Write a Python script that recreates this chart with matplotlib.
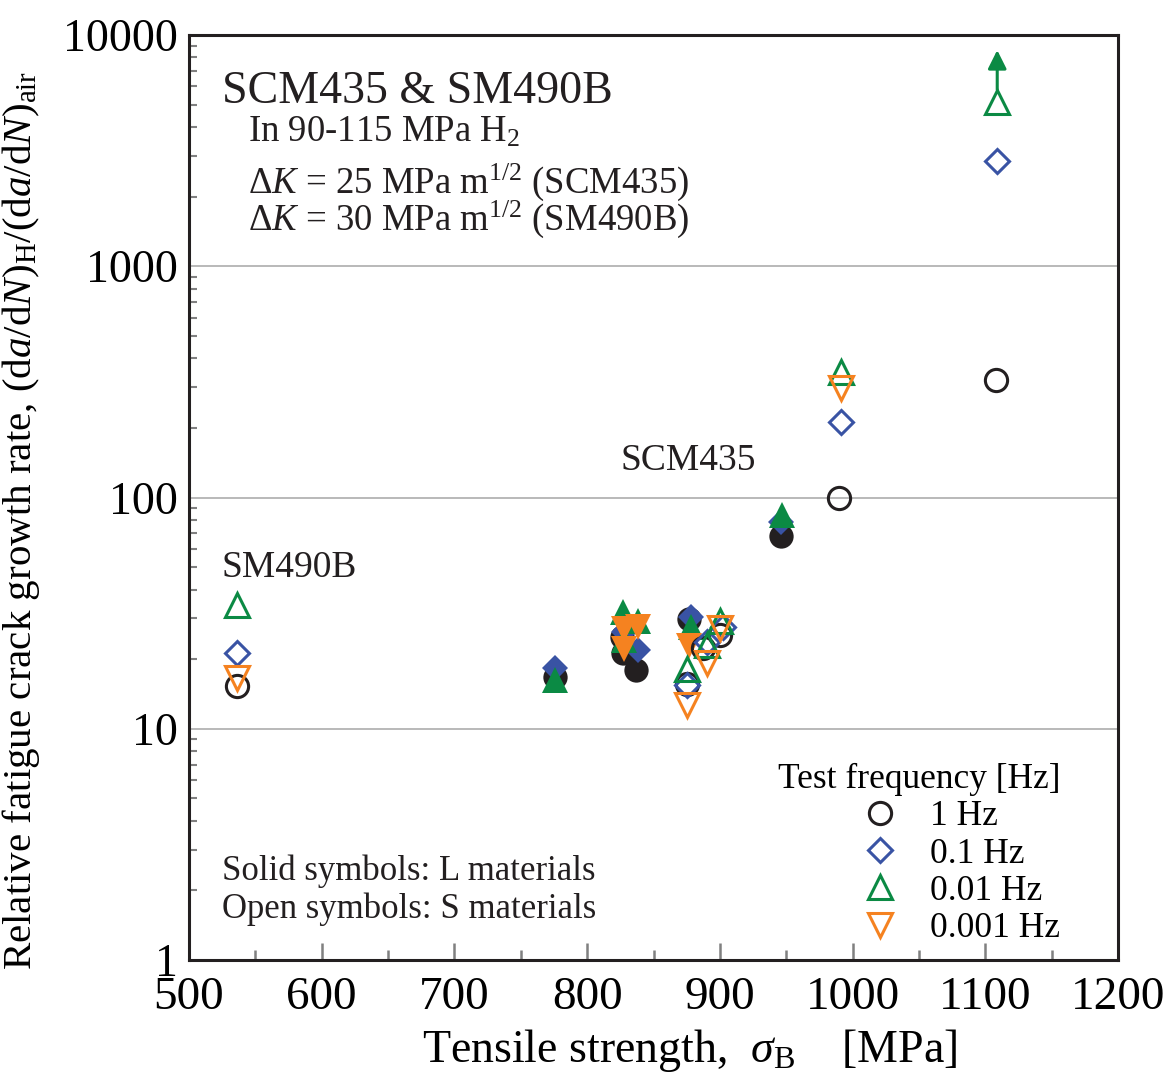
import matplotlib
matplotlib.use("Agg")
import matplotlib.pyplot as plt
from matplotlib.lines import Line2D
from matplotlib.ticker import FixedLocator, NullFormatter, LogLocator

plt.rcParams['font.family'] = ['Liberation Serif', 'DejaVu Serif']
plt.rcParams['mathtext.fontset'] = 'custom'
plt.rcParams['mathtext.rm'] = 'Liberation Serif'
plt.rcParams['mathtext.it'] = 'Liberation Serif:italic'
plt.rcParams['mathtext.bf'] = 'Liberation Serif:bold'

# ---- data (tensile strength [MPa], relative FCG rate) ----
f1_solid_x = [776, 826, 827, 837, 877, 946]
f1_solid_y = [16.7, 24.9, 21.3, 17.9, 29.8, 68]
f1_open_x = [536, 875, 887, 900, 990, 1108]
f1_open_y = [15.3, 15.6, 22.3, 25.4, 99.5, 322]

f01_solid_x = [776, 828, 838, 878, 946]
f01_solid_y = [18.3, 26.2, 21.9, 30.5, 78]
f01_open_x = [536, 875, 890, 902, 991, 1109]
f01_open_y = [21.3, 15.5, 23.7, 27.5, 212, 2850]

f001_solid_x = [776, 827, 828, 838, 878, 947]
f001_solid_y = [16.3, 32, 24.2, 29.2, 27.5, 84]
f001_open_x = [536, 875, 890, 900, 991, 1109]
f001_open_y = [34.3, 18.1, 23, 29.2, 349, 5130]

f0001_solid_x = [828, 838, 828, 877]
f0001_solid_y = [27, 27.5, 22.1, 22.8]
f0001_open_x = [536, 875, 890, 900, 991]
f0001_open_y = [16.6, 12.7, 19.2, 27.3, 298]

# lower bound arrow (0.01 Hz, 1109 MPa)
arrow_x = 1109
arrow_y_from = 5800
arrow_y_to = 8600

labels = ['1 Hz', '0.1 Hz', '0.01 Hz', '0.001 Hz']
colors = ['#231f20', '#3953a4', '#0b8a44', '#f58220']
markers = ['o', 'D', '^', 'v']
msizes = [17.5, 13.5, 19, 19]

x_ticks = [500, 600, 700, 800, 900, 1000, 1100, 1200]
y_ticks = [1, 10, 100, 1000, 10000]
y_ticklabels = ['1', '10', '100', '1000', '10000']

series = [
    (f1_solid_x, f1_solid_y, f1_open_x, f1_open_y),
    (f01_solid_x, f01_solid_y, f01_open_x, f01_open_y),
    (f001_solid_x, f001_solid_y, f001_open_x, f001_open_y),
    (f0001_solid_x, f0001_solid_y, f0001_open_x, f0001_open_y),
]

fig = plt.figure(figsize=(11.67, 10.76), dpi=100)
ax = fig.add_axes([189/1167, 1-960/1076, (1118-189)/1167, (960-35)/1076])

for (sx, sy, ox, oy), c, m, ms in zip(series, colors, markers, msizes):
    ax.plot(sx, sy, ls='none', marker=m, ms=ms, mfc=c, mec=c, mew=0, zorder=3)
for (sx, sy, ox, oy), c, m, ms in zip(series, colors, markers, msizes):
    ax.plot(ox, oy, ls='none', marker=m, ms=ms - 1.5, mfc='none', mec=c, mew=2.2, zorder=4)

ax.annotate('', xy=(arrow_x, arrow_y_to), xytext=(arrow_x, arrow_y_from),
            arrowprops=dict(arrowstyle='-|>', color=colors[2], lw=2.2, mutation_scale=28,
                            shrinkA=0, shrinkB=0), zorder=5)

ax.set_yscale('log')
ax.set_xlim(500, 1200)
ax.set_ylim(1, 10000)
ax.set_xticks(x_ticks)
ax.set_xticklabels([str(v) for v in x_ticks])
ax.xaxis.set_minor_locator(FixedLocator([550, 650, 750, 850, 950, 1050, 1150]))
ax.set_yticks(y_ticks)
ax.set_yticklabels(y_ticklabels)
ax.yaxis.set_minor_locator(LogLocator(base=10, subs=range(2, 10)))
ax.yaxis.set_minor_formatter(NullFormatter())

for v in [10, 100, 1000]:
    ax.axhline(v, color='#b3b3b3', lw=1.3, zorder=1)

ax.tick_params(axis='x', which='major', direction='in', length=12, width=1.8, color='#808080',
               labelsize=34, pad=12, top=False)
ax.tick_params(axis='x', which='minor', direction='in', length=7, width=1.8, color='#808080', top=False)
ax.tick_params(axis='y', which='major', direction='in', length=0, width=1.5, color='#808080',
               labelsize=33, pad=8, right=False)
ax.tick_params(axis='y', which='minor', direction='in', length=6, width=1.5, color='#808080', right=False)

for s in ax.spines.values():
    s.set_linewidth(2.2)
    s.set_color('#231f20')

ax.set_xlabel(r'Tensile strength,  $\sigma_\mathrm{B}$    [MPa]', fontsize=33, labelpad=4)
ax.xaxis.set_label_coords(0.539, -0.072)
ax.set_ylabel(r'Relative fatigue crack growth rate, (d$a$/d$N$)$_\mathrm{H}$/(d$a$/d$N$)$_\mathrm{air}$',
              fontsize=29.5, labelpad=2)
ax.yaxis.set_label_coords(-0.158, 0.475)

tc = '#231f20'
ax.text(0.0355, 0.9265, 'SCM435 & SM490B', transform=ax.transAxes, fontsize=33, va='baseline', color=tc)
ax.text(0.0635, 0.885, r'In 90-115 MPa H$_2$', transform=ax.transAxes, fontsize=26.5, va='baseline', color=tc)
ax.text(0.0635, 0.829, r'$\Delta K$ = 25 MPa m$^{1/2}$ (SCM435)', transform=ax.transAxes, fontsize=26.5,
        va='baseline', color=tc)
ax.text(0.0635, 0.789, r'$\Delta K$ = 30 MPa m$^{1/2}$ (SM490B)', transform=ax.transAxes, fontsize=26.5,
        va='baseline', color=tc)
ax.text(0.464, 0.530, 'SCM435', transform=ax.transAxes, fontsize=27, va='baseline', color=tc)
ax.text(0.0355, 0.414, 'SM490B', transform=ax.transAxes, fontsize=27, va='baseline', color=tc)
ax.text(0.0355, 0.0865, 'Solid symbols: L materials', transform=ax.transAxes, fontsize=25, va='baseline', color=tc)
ax.text(0.0355, 0.0454, 'Open symbols: S materials', transform=ax.transAxes, fontsize=25, va='baseline', color=tc)

handles = [Line2D([], [], ls='none', marker=m, ms=ms - 1.5, mfc='none', mec=c, mew=2.2)
           for m, c, ms in zip(markers, colors, msizes)]
leg = ax.legend(handles, labels, title='Test frequency [Hz]', loc='upper right',
                bbox_to_anchor=(0.9376, 0.213), frameon=False, fontsize=25.5, title_fontsize=25.5,
                handletextpad=0.6, labelspacing=0.12, borderpad=0, borderaxespad=0,
                handlelength=1.6)
leg._legend_box.align = 'right'

fig.savefig('out.png', dpi=100)
